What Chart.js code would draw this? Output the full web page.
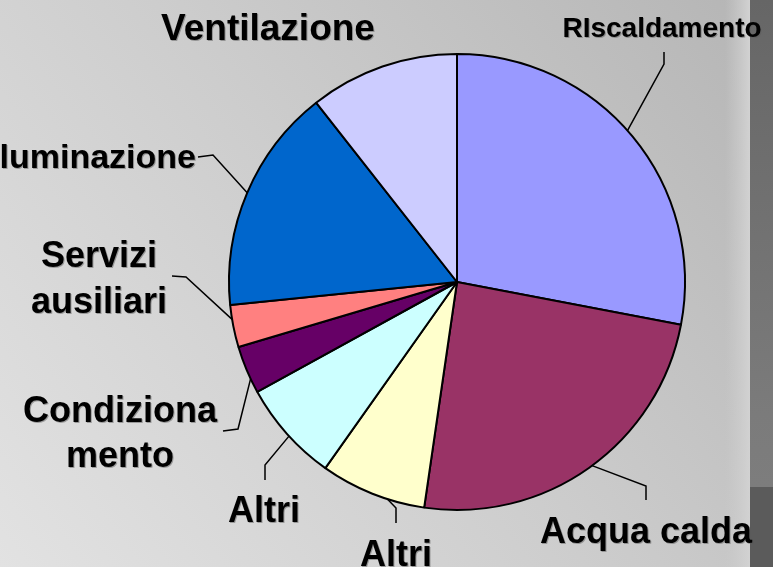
<!DOCTYPE html>
<html>
<head>
<meta charset="utf-8">
<script src="https://cdn.jsdelivr.net/npm/chart.js@4"></script>
<style>
  html, body { margin: 0; padding: 0; background: #ffffff; }
  #wrap { width: 778px; height: 567px; position: relative; }
</style>
</head>
<body>
<div id="wrap"><canvas id="c" width="778" height="567"></canvas></div>
<script>
// ---- data ----
const categories = ["RIscaldamento", "Acqua calda", "Altri", "Altri", "Condizionamento", "Servizi ausiliari", "Illuminazione", "Ventilazione"];
const shares = [28.0, 24.3, 7.5, 7.2, 3.4, 3.0, 16.0, 10.6];
const sliceColors = ["#9999FF", "#993366", "#FFFFCC", "#CCFFFF", "#660066", "#FF8080", "#0066CC", "#CCCCFF"];

// ---- label placement (layout only) ----
// lines: text rows, x: centre/anchor, y: baseline of first row, align, size
// leader: fixed points near the text, then a point on the slice rim at fraction f of the slice angle
const labelLayout = [
  { lines: ["RIscaldamento"], x: 662, y: 37, align: "center", size: 28, leader: [[664, 52], [664, 64]], f: 0.48 },
  { lines: ["Acqua calda"], x: 646, y: 543, align: "center", size: 36, leader: [[646, 500], [646, 486]], f: 0.49 },
  { lines: ["Altri"], x: 396, y: 566, align: "center", size: 36, leader: [[396, 523], [396, 508]], f: 0.35 },
  { lines: ["Altri"], x: 264, y: 522, align: "center", size: 36, leader: [[265, 480], [265, 465]], f: 0.47 },
  { lines: ["Condiziona", "mento"], x: 120, y: 422, lh: 45, align: "center", size: 36, leader: [[223, 431], [238, 429]], f: 0.3 },
  { lines: ["Servizi", "ausiliari"], x: 99, y: 267, lh: 46, align: "center", size: 36, leader: [[172, 276], [186, 277]], f: 0.66 },
  { lines: ["Illuminazione"], x: 196, y: 168, align: "right", size: 34, leader: [[198, 157], [213, 155]], f: 0.5 },
  { lines: ["Ventilazione"], x: 268, y: 40, align: "center", size: 37, leader: null, f: 0.5 }
];

const bgPlugin = {
  id: "bg",
  beforeDraw(chart) {
    const ctx = chart.ctx;
    const W = chart.width, H = chart.height;
    ctx.save();
    const g = ctx.createLinearGradient(0, H, 740, 0);
    g.addColorStop(0, "#e2e2e2");
    g.addColorStop(0.5, "#cdcdcd");
    g.addColorStop(1, "#b6b6b6");
    ctx.fillStyle = g;
    ctx.fillRect(0, 0, W, H);
    // light strip before the dark band
    const s = ctx.createLinearGradient(725, 0, 750, 0);
    s.addColorStop(0, "rgba(205,205,205,0)");
    s.addColorStop(1, "rgba(210,210,210,1)");
    ctx.fillStyle = s;
    ctx.fillRect(725, 0, 25, H);
    // dark band
    const b = ctx.createLinearGradient(0, 0, 0, 487);
    b.addColorStop(0, "#666666");
    b.addColorStop(0.85, "#7b7b7b");
    b.addColorStop(1, "#7d7d7d");
    ctx.fillStyle = b;
    ctx.fillRect(750, 0, 23, 487);
    ctx.fillStyle = "#5b5b5b";
    ctx.fillRect(750, 487, 23, H - 487);
    ctx.fillStyle = "#ffffff";
    ctx.fillRect(773, 0, W - 773, H);
    ctx.restore();
  }
};

const labelPlugin = {
  id: "pieLabels",
  afterDraw(chart) {
    const ctx = chart.ctx;
    const arcs = chart.getDatasetMeta(0).data;
    ctx.save();
    labelLayout.forEach((L, i) => {
      const arc = arcs[i];
      if (L.leader) {
        const p = arc.getProps(["x", "y", "startAngle", "endAngle", "outerRadius"], true);
        const a = p.startAngle + (p.endAngle - p.startAngle) * L.f;
        const ex = p.x + Math.cos(a) * p.outerRadius;
        const ey = p.y + Math.sin(a) * p.outerRadius;
        ctx.strokeStyle = "#000";
        ctx.lineWidth = 1.5;
        ctx.beginPath();
        ctx.moveTo(L.leader[0][0], L.leader[0][1]);
        for (let k = 1; k < L.leader.length; k++) ctx.lineTo(L.leader[k][0], L.leader[k][1]);
        ctx.lineTo(ex, ey);
        ctx.stroke();
      }
      ctx.font = "bold " + L.size + "px 'Liberation Sans', Arial, sans-serif";
      ctx.textAlign = L.align;
      ctx.textBaseline = "alphabetic";
      L.lines.forEach((t, k) => {
        const y = L.y + k * (L.lh || 0);
        ctx.fillStyle = "rgba(90,90,90,0.5)";
        ctx.fillText(t, L.x + 1, y + 1);
        ctx.fillStyle = "#000";
        ctx.fillText(t, L.x, y);
      });
    });
    ctx.restore();
  }
};

new Chart(document.getElementById("c"), {
  type: "pie",
  data: {
    labels: categories,
    datasets: [{
      data: shares,
      backgroundColor: sliceColors,
      borderColor: "#000000",
      borderWidth: 2
    }]
  },
  options: {
    responsive: false,
    animation: false,
    layout: { padding: { left: 228, right: 92, top: 52, bottom: 55 } },
    plugins: {
      legend: { display: false },
      tooltip: { enabled: false },
      title: { display: false }
    }
  },
  plugins: [bgPlugin, labelPlugin]
});
</script>
</body>
</html>
